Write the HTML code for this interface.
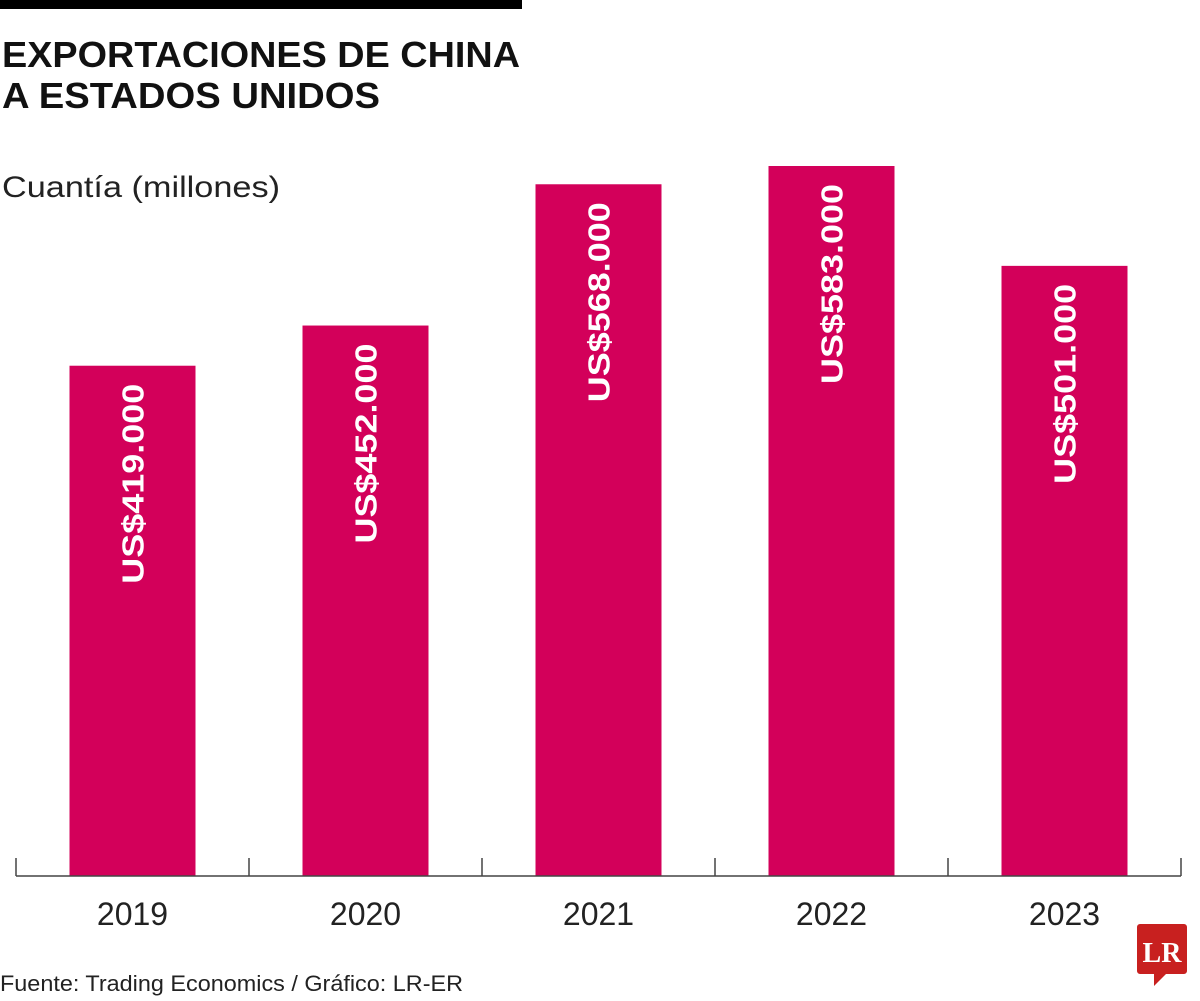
<!DOCTYPE html>
<html><head><meta charset="utf-8"><style>
html,body{margin:0;padding:0;background:#fff;}
svg{display:block;font-family:"Liberation Sans",sans-serif;}
</style></head><body>
<svg id="chart" width="1200" height="1001" viewBox="0 0 1200 1001">
<rect x="0" y="0" width="522" height="9" fill="#000"/>
<text x="2" y="67" font-size="36" font-weight="bold" fill="#111" textLength="518" lengthAdjust="spacingAndGlyphs">EXPORTACIONES DE CHINA</text>
<text x="2" y="108" font-size="36" font-weight="bold" fill="#111" textLength="378" lengthAdjust="spacingAndGlyphs">A ESTADOS UNIDOS</text>
<text x="2" y="197" font-size="30" fill="#222" textLength="278" lengthAdjust="spacingAndGlyphs">Cuantía (millones)</text>
<g id="bars"></g>
<g id="axis"></g>
<text x="0" y="991" font-size="22" fill="#222" textLength="463" lengthAdjust="spacingAndGlyphs">Fuente: Trading Economics / Gráfico: LR-ER</text>
<g>
<path d="M1140 924 h44 a3 3 0 0 1 3 3 v44 a3 3 0 0 1 -3 3 h-18 l-12 12 v-12 h-14 a3 3 0 0 1 -3 -3 v-44 a3 3 0 0 1 3 -3z" fill="#c8201f"/>
<text x="1162" y="962" font-family="Liberation Serif,serif" font-weight="bold" font-size="28" fill="#fff" text-anchor="middle">LR</text>
</g>
</svg>
<script>
const categories = ["2019","2020","2021","2022","2023"];
const values = [419, 452, 568, 583, 501];
const labels = ["US$419.000","US$452.000","US$568.000","US$583.000","US$501.000"];
const NS="http://www.w3.org/2000/svg";
const baseY=876, pxPerUnit=710/583, left=16, step=233, barW=126;
const y = v => baseY - v*pxPerUnit;
const xc = i => left + step*i + step/2;
const bars=document.getElementById('bars'), axis=document.getElementById('axis');
categories.forEach((c,i)=>{
  const r=document.createElementNS(NS,'rect');
  r.setAttribute('x',xc(i)-barW/2); r.setAttribute('y',y(values[i]));
  r.setAttribute('width',barW); r.setAttribute('height',baseY-y(values[i]));
  r.setAttribute('fill','#d3005a');
  
  
  bars.appendChild(r);
  const t=document.createElementNS(NS,'text');
  const tx=xc(i)+11, ty=y(values[i])+18;
  t.setAttribute('x',tx); t.setAttribute('y',ty);
  t.setAttribute('transform','rotate(-90 '+tx+' '+ty+')');
  t.setAttribute('text-anchor','end'); t.setAttribute('font-size','31'); t.setAttribute('font-weight','bold');
  t.setAttribute('fill','#fff'); t.setAttribute('textLength','200'); t.setAttribute('lengthAdjust','spacingAndGlyphs');
  t.textContent=labels[i];
  
  
  bars.appendChild(t);
  const yl=document.createElementNS(NS,'text');
  yl.setAttribute('x',xc(i)); yl.setAttribute('y',925);
  yl.setAttribute('text-anchor','middle'); yl.setAttribute('font-size','32'); yl.setAttribute('fill','#222');
  yl.textContent=c;
  
  
  axis.appendChild(yl);
});
const ax=document.createElementNS(NS,'line');
ax.setAttribute('x1',left); ax.setAttribute('x2',left+step*categories.length); ax.setAttribute('y1',baseY); ax.setAttribute('y2',baseY);
ax.setAttribute('stroke','#444'); ax.setAttribute('stroke-width','1.5');


axis.appendChild(ax);
for(let i=0;i<=categories.length;i++){
  const tk=document.createElementNS(NS,'line');
  const x=left+step*i;
  tk.setAttribute('x1',x); tk.setAttribute('x2',x); tk.setAttribute('y1',baseY); tk.setAttribute('y2',baseY-18);
  tk.setAttribute('stroke','#444'); tk.setAttribute('stroke-width','1.5');
  
  
  axis.appendChild(tk);
}
</script>
</body></html>
